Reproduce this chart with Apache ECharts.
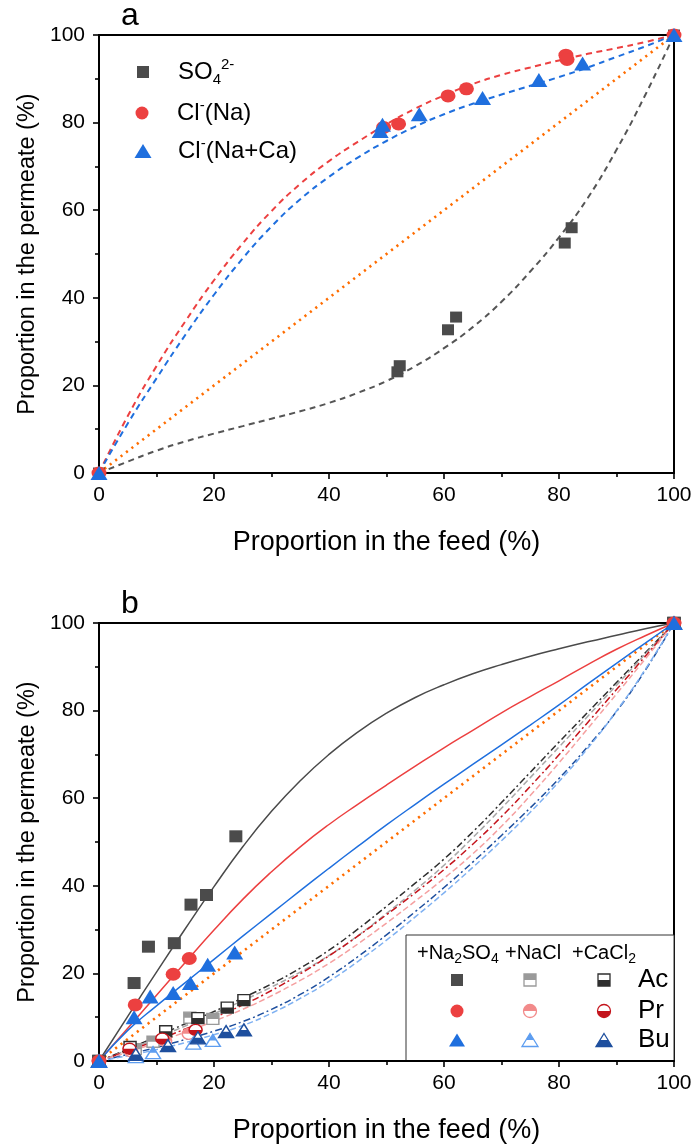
<!DOCTYPE html>
<html><head><meta charset="utf-8">
<script src="https://cdn.jsdelivr.net/npm/echarts@6/dist/echarts.min.js"></script>
<style>html,body{margin:0;padding:0;background:#fff}#c{width:694px;height:1144px}</style>
</head><body><div id="c"></div>
<script>
// ---------------- data ----------------
const axisTicks = [0, 20, 40, 60, 80, 100];
const fitX = [0,5,10,15,20,25,30,35,40,45,50,55,60,65,70,75,80,85,90,95,100];
const diagonal = [[0,0],[100,100]];

// panel a : measured points
const so4Pts    = [[0,0],[51.9,23.1],[52.3,24.5],[60.7,32.7],[62.1,35.6],[81.0,52.5],[82.2,56.0],[100,100]];
const clNaPts   = [[0,0],[49.5,78.9],[52.1,79.7],[60.7,86.1],[63.9,87.7],[81.2,95.4],[81.4,94.4],[100,100]];
const clNaCaPts = [[0,0],[48.9,78.1],[49.3,79.5],[55.7,81.9],[66.7,85.6],[76.5,89.7],[84.1,93.5],[100,100]];
// panel a : fitted curves (y at fitX)
const so4Fit    = [0,2.6,5.1,7.2,9.0,10.7,12.4,14.1,16.0,18.3,21.0,24.4,28.5,33.3,39.1,46.0,53.8,62.8,73.8,86.3,100];
const clNaFit   = [0,13.0,24.4,34.6,44.0,52.4,59.8,66.0,71.2,75.6,79.6,83.2,86.2,88.8,90.9,92.6,94.2,95.7,97.0,98.4,100];
const clNaCaFit = [0,11.3,21.6,31.5,40.7,49.0,56.3,62.5,67.6,72.0,75.8,79.1,81.9,84.3,86.4,88.4,90.4,92.6,95.0,97.4,100];

// panel b : measured points
const acSO4Pts = [[0,0],[6.1,17.8],[8.6,26.1],[13.1,26.9],[16.0,35.7],[18.7,37.9],[23.8,51.3],[100,100]];
const prSO4Pts = [[0,0],[6.3,12.8],[12.9,19.8],[15.7,23.4],[100,100]];
const buSO4Pts = [[0,0],[6.1,10.0],[8.9,14.7],[12.9,15.5],[15.9,17.8],[18.9,22.0],[23.6,24.8],[100,100]];
const acNaPts  = [[0,0],[6.3,2.7],[9.4,4.4],[15.8,9.9],[19.8,9.6],[100,100]];
const acCaPts  = [[0,0],[5.4,3.2],[11.6,6.8],[17.2,9.8],[22.3,12.2],[25.2,13.9],[100,100]];
const prNaPts  = [[0,0],[5.6,2.2],[11.5,4.6],[15.6,6.2],[100,100]];
const prCaPts  = [[0,0],[5.3,2.8],[11.0,5.1],[16.8,7.1],[100,100]];
const buNaPts  = [[0,0],[6.4,1.0],[9.4,1.9],[16.4,4.1],[19.8,4.7],[100,100]];
const buCaPts  = [[0,0],[6.4,1.5],[12.0,3.5],[17.2,5.3],[22.1,6.7],[25.2,7.1],[100,100]];
// panel b : fitted curves (y at fitX)
const acSO4Fit = [0,10.2,20.3,30.2,39.8,48.9,57.0,64.0,70.0,75.1,79.4,83.0,85.9,88.4,90.5,92.4,94.1,95.7,97.2,98.7,100];
const prSO4Fit = [0,7.5,15.0,22.5,29.9,36.9,43.2,48.9,54.0,58.6,63.0,67.3,71.5,75.5,79.5,83.2,86.8,90.5,94.0,97.1,100];
const buSO4Fit = [0,7.0,12.6,17.9,23.2,28.5,33.7,38.9,44.0,49.0,53.9,58.6,63.2,67.7,72.2,76.7,81.3,86.1,90.8,95.4,100];
const acCaFit  = [0,2.7,5.6,8.5,11.3,14.4,17.6,21.2,25.3,30.1,35.3,40.6,46.1,52.3,59.0,65.9,72.8,79.6,86.4,93.2,100];
const acNaFit  = [0,2.5,5.2,8.0,10.8,13.8,16.9,20.3,24.1,28.6,33.7,39.0,44.7,51.0,57.7,64.7,71.7,78.7,85.8,92.9,100];
const prCaFit  = [0,2.3,4.7,7.3,9.9,12.8,16.1,19.9,24.0,28.5,33.4,38.4,43.7,49.5,55.8,62.7,69.9,77.3,84.8,92.4,100];
const prNaFit  = [0,2.0,4.2,6.6,9.1,11.8,14.9,18.4,22.3,26.7,31.5,36.5,41.7,47.3,53.6,60.6,68.1,75.9,83.8,91.8,100];
const buCaFit  = [0,1.5,3.1,4.9,6.8,9.0,11.8,15.2,19.2,23.8,28.8,34.1,39.6,45.4,51.5,57.8,64.5,71.8,79.8,89.2,100];
const buNaFit  = [0,1.2,2.6,4.2,6.0,8.1,10.9,14.3,18.2,22.7,27.6,32.9,38.4,44.2,50.3,56.8,63.8,71.4,79.9,89.4,100];

const xTitle = 'Proportion in the feed (%)';
const yTitle = 'Proportion in the permeate (%)';

// ---------------- styling ----------------
const FONT = '"Liberation Sans", Arial, Helvetica, sans-serif';
const C = {
  grey:'#4b4b4b', red:'#ec4040', blue:'#1f6fde', orange:'#ff6d00',
  greyNa:'#9a9a9a', blackCa:'#2e2e2e', pinkNa:'#f28a8a', redCa:'#c4141c',
  blueNa:'#5d9df0', blueCa:'#1e4f9e'
};
const ELLIPSE  = 'path://M0,5A5,5 0 1 1 10,5A5,5 0 1 1 0,5Z';
const TOP_RECT = 'path://M0,0L10,0L10,5L0,5Z M0,10L10,10';
const BOT_RECT = 'path://M0,5L10,5L10,10L0,10Z M0,0L10,0';
const TOP_CIRC = 'path://M0,5A5,5 0 0 1 10,5Z M0,10L10,10';
const BOT_CIRC = 'path://M0,5A5,5 0 0 0 10,5Z M0,0L10,0';
const TOP_TRI  = 'path://M5,0L7.5,5L2.5,5Z M0,10L10,10';
const BOT_TRI  = 'path://M2.5,5L7.5,5L10,10L0,10Z M0,0L10,0';

const zip = (ys) => fitX.map((x, i) => [x, ys[i]]);

function fitLine(name, ys, color, type, width, gi) {
  return { name, type:'line', xAxisIndex:gi, yAxisIndex:gi, data:zip(ys), showSymbol:false, symbol:'none',
    smooth:0.5, silent:true, z:2,
    lineStyle:{color, width, type} };
}
function diagLine(gi) {
  return { name:'diag'+gi, type:'line', xAxisIndex:gi, yAxisIndex:gi, data:diagonal, symbol:'none', silent:true, z:2,
    lineStyle:{color:C.orange, width:2.6, type:[2.2,4.6]} };
}
function scat(name, pts, symbol, size, color, gi, z) {
  return { name, type:'scatter', xAxisIndex:gi, yAxisIndex:gi, data:pts, symbol, symbolSize:size, clip:false, z:z||5,
    itemStyle:{color, opacity:1} };
}
function halfScat(name, pts, base, half, size, color) {
  return [
    { name, type:'scatter', xAxisIndex:1, yAxisIndex:1, data:pts, symbol:base, symbolSize:size, clip:false, z:4,
      itemStyle:{color:'#ffffff', borderColor:color, borderWidth:1.4, opacity:1} },
    { name:name+'_h', type:'scatter', xAxisIndex:1, yAxisIndex:1, data:pts, symbol:half, symbolSize:size, clip:false, z:4,
      itemStyle:{color, borderWidth:0, opacity:1} }
  ];
}

function xAx(gi) {
  return { gridIndex:gi, type:'value', min:axisTicks[0], max:axisTicks[axisTicks.length-1], interval:axisTicks[1]-axisTicks[0],
    name:xTitle, nameLocation:'middle', nameGap:56,
    nameTextStyle:{fontSize:27, color:'#000', fontFamily:FONT},
    axisLine:{show:true, onZero:false, lineStyle:{color:'#000', width:2}},
    axisTick:{show:true, inside:false, length:6, lineStyle:{color:'#000', width:1.6}},
    minorTick:{show:true, splitNumber:2, length:4, lineStyle:{color:'#000', width:1.6}},
    axisLabel:{fontSize:21, color:'#000', margin:12, fontFamily:FONT},
    splitLine:{show:false}, minorSplitLine:{show:false} };
}
function yAx(gi) {
  return { gridIndex:gi, type:'value', min:axisTicks[0], max:axisTicks[axisTicks.length-1], interval:axisTicks[1]-axisTicks[0],
    name:yTitle, nameLocation:'middle', nameGap:57,
    nameTextStyle:{fontSize:23.5, color:'#000', fontFamily:FONT},
    axisLine:{show:true, onZero:false, lineStyle:{color:'#000', width:2}},
    axisTick:{show:true, inside:false, length:6, lineStyle:{color:'#000', width:1.6}},
    minorTick:{show:true, splitNumber:2, length:4, lineStyle:{color:'#000', width:1.6}},
    axisLabel:{fontSize:21, color:'#000', margin:14, fontFamily:FONT},
    splitLine:{show:false}, minorSplitLine:{show:false} };
}

const legRich = {
  sp:{width:24, fontSize:24, lineHeight:30},
  n:{fontSize:24, lineHeight:30, fontFamily:FONT, color:'#000'},
  sb:{fontSize:15, lineHeight:15, verticalAlign:'bottom', fontFamily:FONT, color:'#000'},
  sp2:{fontSize:15, lineHeight:15, verticalAlign:'top', fontFamily:FONT, color:'#000'}
};
const legendText = {
  'SO4':'{sp| }{n|SO}{sb|4}{sp2|2-}',
  'ClNa':'{sp| }{n|Cl}{sp2|-}{n|(Na)}',
  'ClNaCa':'{sp| }{n|Cl}{sp2|-}{n|(Na+Ca)}'
};
function leg(name, center, w, h) {
  const r = JSON.parse(JSON.stringify(legRich));
  r.sp.width = 30 - w/2;
  return { data:[name], left:143 - w/2, top:center - 15, padding:0, itemWidth:w, itemHeight:h, selectedMode:false,
    formatter:(n)=>legendText[n], textStyle:{rich:r, fontFamily:FONT} };
}

// ---------------- panel b legend (graphic) ----------------
const legX = [457, 530, 604], legY = [980, 1011, 1040];
function sq(cx, cy, color, half) {
  const s = 12, els = [{type:'rect', shape:{x:cx-s/2, y:cy-s/2, width:s, height:s}, style:{fill: half ? '#fff' : color, stroke:color, lineWidth: half?1.3:0}}];
  if (half === 'top') els.push({type:'rect', shape:{x:cx-s/2, y:cy-s/2, width:s, height:s/2}, style:{fill:color}});
  if (half === 'bot') els.push({type:'rect', shape:{x:cx-s/2, y:cy, width:s, height:s/2}, style:{fill:color}});
  return els;
}
function ci(cx, cy, color, half) {
  const r = 6.5, els = [{type:'circle', shape:{cx, cy, r}, style:{fill: half ? '#fff' : color, stroke:color, lineWidth: half?1.3:0}}];
  if (half === 'top') els.push({type:'sector', shape:{cx, cy, r, startAngle:Math.PI, endAngle:2*Math.PI}, style:{fill:color}});
  if (half === 'bot') els.push({type:'sector', shape:{cx, cy, r, startAngle:0, endAngle:Math.PI}, style:{fill:color}});
  return els;
}
function tr(cx, cy, color, half) {
  const w = 16, h = 13, t = cy - h/2, b = cy + h/2;
  const els = [{type:'polygon', shape:{points:[[cx,t],[cx+w/2,b],[cx-w/2,b]]}, style:{fill: half ? '#fff' : color, stroke:color, lineWidth: half?1.3:0}}];
  if (half === 'top') els.push({type:'polygon', shape:{points:[[cx,t],[cx+w/4,cy],[cx-w/4,cy]]}, style:{fill:color}});
  if (half === 'bot') els.push({type:'polygon', shape:{points:[[cx-w/4,cy],[cx+w/4,cy],[cx+w/2,b],[cx-w/2,b]]}, style:{fill:color}});
  return els;
}
const hdrRich = { n:{fontSize:20, lineHeight:26, fontFamily:FONT, color:'#000'}, s:{fontSize:14, lineHeight:14, verticalAlign:'bottom', fontFamily:FONT, color:'#000'} };
const legendB = [].concat(
  [{type:'rect', shape:{x:406, y:935, width:268, height:126}, style:{fill:'#fff', stroke:'#333', lineWidth:1}}],
  [{type:'text', x:417, y:953, style:{text:'{n|+Na}{s|2}{n|SO}{s|4}', rich:hdrRich, verticalAlign:'middle', align:'left'}},
   {type:'text', x:505, y:953, style:{text:'{n|+NaCl}', rich:hdrRich, verticalAlign:'middle', align:'left'}},
   {type:'text', x:572, y:953, style:{text:'{n|+CaCl}{s|2}', rich:hdrRich, verticalAlign:'middle', align:'left'}},
   {type:'text', x:638, y:legY[0], style:{text:'Ac', font:'26px '+FONT, fill:'#000', verticalAlign:'middle', align:'left'}},
   {type:'text', x:638, y:legY[1], style:{text:'Pr', font:'26px '+FONT, fill:'#000', verticalAlign:'middle', align:'left'}},
   {type:'text', x:638, y:legY[2], style:{text:'Bu', font:'26px '+FONT, fill:'#000', verticalAlign:'middle', align:'left'}}],
  sq(legX[0], legY[0], C.grey), sq(legX[1], legY[0], C.greyNa, 'top'), sq(legX[2], legY[0], C.blackCa, 'bot'),
  ci(legX[0], legY[1], C.red), ci(legX[1], legY[1], C.pinkNa, 'top'), ci(legX[2], legY[1], C.redCa, 'bot'),
  tr(legX[0], legY[2], C.blue), tr(legX[1], legY[2], C.blueNa, 'top'), tr(legX[2], legY[2], C.blueCa, 'bot')
);

const option = {
  animation:false,
  backgroundColor:'#fff',
  textStyle:{fontFamily:FONT},
  grid:[
    {left:99, top:35, width:575, height:438, show:true, borderColor:'#000', borderWidth:2, backgroundColor:'transparent', outerBoundsMode:'none', containLabel:false},
    {left:99, top:623, width:575, height:438, show:true, borderColor:'#000', borderWidth:2, backgroundColor:'transparent', outerBoundsMode:'none', containLabel:false}
  ],
  xAxis:[xAx(0), xAx(1)],
  yAxis:[yAx(0), yAx(1)],
  legend:[ leg('SO4', 72, 12, 12), leg('ClNa', 113, 15, 13), leg('ClNaCa', 151, 17, 14) ],
  graphic:{elements:[
    {type:'text', x:130, y:16, z:100, style:{text:'a', font:'32px '+FONT, fill:'#000', align:'center', verticalAlign:'middle'}},
    {type:'text', x:130, y:604, z:100, style:{text:'b', font:'32px '+FONT, fill:'#000', align:'center', verticalAlign:'middle'}},
    {type:'group', z:100, children:legendB}
  ]},
  series:[].concat(
    // panel a
    [ diagLine(0),
      fitLine('so4Fit', so4Fit, '#555555', [6,4.5], 2, 0),
      fitLine('clNaFit', clNaFit, C.red, [6,4.5], 2, 0),
      fitLine('clNaCaFit', clNaCaFit, C.blue, [6,4.5], 2, 0),
      scat('SO4', so4Pts, 'rect', [12,11], C.grey, 0),
      scat('ClNa', clNaPts, ELLIPSE, [15,13], C.red, 0),
      scat('ClNaCa', clNaCaPts, 'triangle', [17,14], C.blue, 0)
    ],
    // panel b
    [ diagLine(1),
      fitLine('acSO4Fit', acSO4Fit, '#4a4a4a', 'solid', 1.5, 1),
      fitLine('prSO4Fit', prSO4Fit, C.red, 'solid', 1.5, 1),
      fitLine('buSO4Fit', buSO4Fit, C.blue, 'solid', 1.5, 1),
      fitLine('acCaFit', acCaFit, C.blackCa, [7,3,2,3], 1.5, 1),
      fitLine('acNaFit', acNaFit, '#a8a8a8', [6,3], 1.5, 1),
      fitLine('prCaFit', prCaFit, C.redCa, [7,3,2,3], 1.5, 1),
      fitLine('prNaFit', prNaFit, '#f5a0a0', [6,3], 1.5, 1),
      fitLine('buCaFit', buCaFit, C.blueCa, [7,3,2,3], 1.5, 1),
      fitLine('buNaFit', buNaFit, '#7fb1f2', [6,3], 1.5, 1)
    ],
    halfScat('acNa', acNaPts, 'rect', TOP_RECT, [12,11], C.greyNa),
    halfScat('acCa', acCaPts, 'rect', BOT_RECT, [12,11], C.blackCa),
    halfScat('prNa', prNaPts, ELLIPSE, TOP_CIRC, [13,11], C.pinkNa),
    halfScat('prCa', prCaPts, ELLIPSE, BOT_CIRC, [13,11], C.redCa),
    halfScat('buNa', buNaPts, 'triangle', TOP_TRI, [15,12], C.blueNa),
    halfScat('buCa', buCaPts, 'triangle', BOT_TRI, [15,12], C.blueCa),
    [ scat('acSO4', acSO4Pts, 'rect', [13,12], C.grey, 1, 6),
      scat('prSO4', prSO4Pts, ELLIPSE, [15,13], C.red, 1, 6),
      scat('buSO4', buSO4Pts, 'triangle', [17,14], C.blue, 1, 6) ]
  )
};

const chart = echarts.init(document.getElementById('c'), null, {renderer:'canvas', width:694, height:1144});
chart.setOption(option);
</script>
</body></html>
